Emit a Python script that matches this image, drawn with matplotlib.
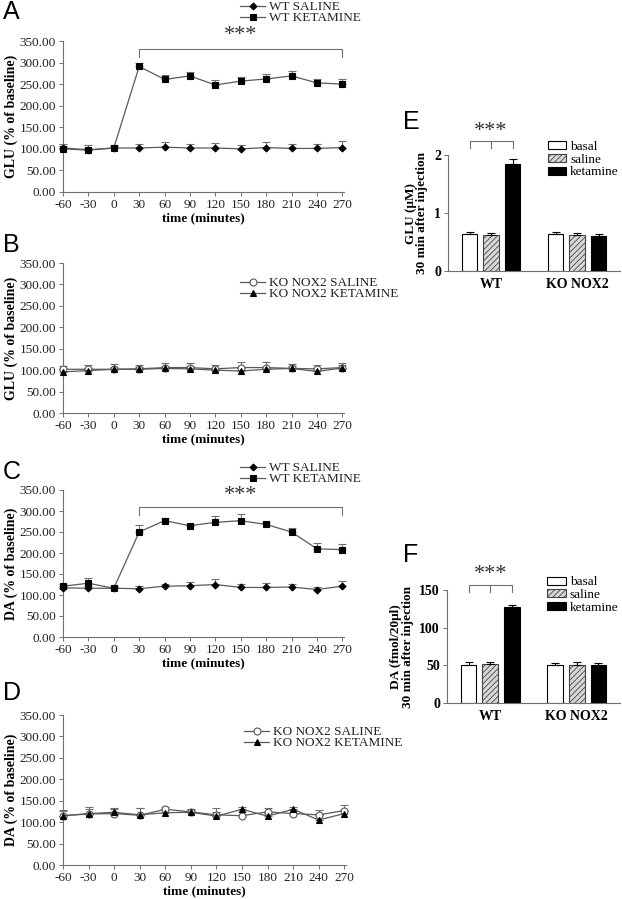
import numpy as np
import matplotlib
matplotlib.use("Agg")
import matplotlib.pyplot as plt
from matplotlib.patches import Patch
from matplotlib.lines import Line2D

plt.rcParams["font.family"] = ["Liberation Serif", "DejaVu Serif"]
plt.rcParams["hatch.linewidth"] = 0.6
plt.rcParams["axes.unicode_minus"] = False

# time course data (% of baseline)
time = [-60, -30, 0, 30, 60, 90, 120, 150, 180, 210, 240, 270]

glu_wt_sal = [102, 98, 102, 102, 104, 102, 102, 100, 103, 101, 101, 103]
glu_wt_sal_err = [10, 12, 8, 10, 12, 10, 12, 10, 12, 11, 10, 15]
glu_wt_ket = [100, 97, 102, 291, 261, 269, 248, 257, 262, 269, 253, 250]
glu_wt_ket_err = [6, 5, 5, 7, 10, 8, 12, 9, 11, 11, 9, 13]

glu_ko_sal = [102, 102, 102, 103, 106, 106, 103, 106, 106, 104, 103, 106]
glu_ko_sal_err = [8, 10, 12, 10, 10, 10, 8, 12, 12, 10, 10, 10]
glu_ko_ket = [96, 99, 102, 102, 104, 103, 100, 98, 102, 104, 97, 105]
glu_ko_ket_err = [6, 6, 6, 6, 6, 6, 6, 6, 6, 6, 6, 6]

da_wt_sal = [117, 116, 116, 115, 121, 122, 125, 118, 118, 119, 113, 121]
da_wt_sal_err = [5, 5, 5, 6, 5, 8, 12, 8, 10, 8, 7, 12]
da_wt_ket = [121, 128, 116, 250, 277, 265, 273, 277, 268, 250, 210, 208]
da_wt_ket_err = [5, 13, 4, 16, 7, 5, 14, 15, 7, 9, 13, 13]

da_ko_sal = [115, 119, 120, 116, 130, 124, 117, 115, 124, 120, 117, 127]
da_ko_sal_err = [13, 12, 11, 18, 6, 6, 16, 8, 10, 8, 12, 12]
da_ko_ket = [115, 120, 123, 117, 122, 123, 114, 130, 114, 130, 105, 120]
da_ko_ket_err = [10, 15, 11, 15, 8, 6, 10, 6, 8, 6, 13, 8]

# bar data, 30 min after injection
groups = ["WT", "KO NOX2"]
conditions = ["basal", "saline", "ketamine"]
glu_bars = [[0.63, 0.62, 1.84], [0.63, 0.62, 0.61]]
glu_bars_err = [[0.04, 0.04, 0.09], [0.05, 0.03, 0.03]]
da_bars = [[50, 52, 127], [50, 51, 50]]
da_bars_err = [[4, 3, 3], [3, 3, 3]]

W, H = 622, 899
fig = plt.figure(figsize=(W / 100, H / 100), dpi=100)

GRAY = "#707070"
LINE = "#5a5a5a"


def px_axes(left, top, right, bottom):
    return fig.add_axes([left / W, 1 - bottom / H, (right - left) / W, (bottom - top) / H])


def style_time_axes(ax, ylabel):
    ax.set_xlim(-60, 272)
    ax.set_ylim(0, 350)
    ax.set_xticks(time)
    ax.set_yticks(np.arange(0, 351, 50))
    ax.set_yticklabels(["%.2f" % v for v in np.arange(0, 351, 50)])
    for s in ["top", "right"]:
        ax.spines[s].set_visible(False)
    for s in ["left", "bottom"]:
        ax.spines[s].set_color(GRAY)
        ax.spines[s].set_linewidth(0.8)
    ax.tick_params(colors=GRAY, labelcolor="#222222", labelsize=9.5, length=3, width=0.7, pad=2)
    ax.set_xlabel("time (minutes)", fontweight="bold", fontsize=9.5, labelpad=1)
    ax.set_ylabel(ylabel, fontweight="bold", fontsize=10, labelpad=1)


def series(ax, y, err, marker, mfc="black", ms=5):
    ax.errorbar(time, y, yerr=[np.zeros(len(err)), err], color=LINE, ecolor=GRAY,
                elinewidth=0.8, capsize=3, capthick=0.8, lw=0.9, marker=marker,
                ms=ms, mfc=mfc, mec="black" if mfc == "black" else "#555555",
                mew=0.8, clip_on=False, zorder=3)
    return Line2D([], [], color=LINE, lw=0.9, marker=marker, ms=ms, mfc=mfc,
                  mec="black" if mfc == "black" else "#555555", mew=0.8)


def legend(ax, handles, labels, x, y):
    leg = ax.legend(handles, labels, loc="upper left", bbox_to_anchor=(x, y), frameon=False,
                    fontsize=9.5, handlelength=1.9, handletextpad=0.3, labelspacing=-0.1,
                    borderpad=0, borderaxespad=0)
    for t in leg.get_texts():
        t.set_color("#222222")


def stars(ax, x, y):
    ax.text(x, y, "***", ha="center", va="center", fontsize=16,
            color="#333333", clip_on=False)


def bracket(ax, x0, x1, ytop, ybot, ytext):
    ax.plot([x0, x0, x1, x1], [ybot, ytop, ytop, ybot], color=GRAY, lw=0.8, clip_on=False)
    stars(ax, (x0 + x1) / 2, ytext)


def letter(x, y, s):
    fig.text(x / W, 1 - y / H, s, fontsize=18, family="Liberation Sans", ha="left", va="center")


# A
axA = px_axes(63, 41, 344, 192)
style_time_axes(axA, "GLU (% of baseline)")
h1 = series(axA, glu_wt_sal, glu_wt_sal_err, "D", ms=3.5)
h2 = series(axA, glu_wt_ket, glu_wt_ket_err, "s", ms=5)
legend(axA, [h1, h2], ["WT SALINE", "WT KETAMINE"], 0.63, 1.265)
bracket(axA, 30, 270, 331, 313, 362)
letter(3, 12, "A")

# B
axB = px_axes(63, 263, 344, 413)
style_time_axes(axB, "GLU (% of baseline)")
h1 = series(axB, glu_ko_sal, glu_ko_sal_err, "o", mfc="white", ms=5)
h2 = series(axB, glu_ko_ket, glu_ko_ket_err, "^", ms=5)
legend(axB, [h1, h2], ["KO NOX2 SALINE", "KO NOX2 KETAMINE"], 0.63, 0.905)
letter(3, 245, "B")

# C
axC = px_axes(63, 490, 344, 637)
style_time_axes(axC, "DA (% of baseline)")
h1 = series(axC, da_wt_sal, da_wt_sal_err, "D", ms=3.5)
h2 = series(axC, da_wt_ket, da_wt_ket_err, "s", ms=5)
legend(axC, [h1, h2], ["WT SALINE", "WT KETAMINE"], 0.63, 1.19)
bracket(axC, 30, 270, 310, 290, 338)
letter(3, 472, "C")

# D
axD = px_axes(63, 715, 346, 865)
style_time_axes(axD, "DA (% of baseline)")
h1 = series(axD, da_ko_sal, da_ko_sal_err, "o", mfc="white", ms=5)
h2 = series(axD, da_ko_ket, da_ko_ket_err, "^", ms=5)
legend(axD, [h1, h2], ["KO NOX2 SALINE", "KO NOX2 KETAMINE"], 0.64, 0.925)
letter(3, 693, "D")

# bar panels
pos = [[0, 1, 2], [4, 5, 6]]
bar_style = [dict(facecolor="white", edgecolor="black", hatch=None),
             dict(facecolor="#d8d8d8", edgecolor="#444444", hatch="//////"),
             dict(facecolor="black", edgecolor="black", hatch=None)]


def bar_panel(ax, vals, errs, ylim, yticks, ylabel):
    for g in range(2):
        for c in range(3):
            ax.bar(pos[g][c], vals[g][c], width=0.72, linewidth=0.8, **bar_style[c], zorder=2)
            ax.errorbar(pos[g][c], vals[g][c], yerr=[[0], [errs[g][c]]], color="black",
                        elinewidth=0.8, capsize=3, capthick=0.8, zorder=3)
    ax.set_xlim(-1, 7)
    ax.set_ylim(*ylim)
    ax.set_yticks(yticks)
    ax.set_xticks([1, 5])
    ax.set_xticklabels(groups, fontweight="bold", fontsize=10)
    for s in ["top", "right"]:
        ax.spines[s].set_visible(False)
    for s in ["left", "bottom"]:
        ax.spines[s].set_color(GRAY)
        ax.spines[s].set_linewidth(0.8)
    ax.tick_params(axis="x", length=0, pad=5)
    ax.tick_params(axis="y", colors=GRAY, labelcolor="black", length=3, width=0.7, pad=2)
    for t in ax.get_yticklabels():
        t.set_fontweight("bold")
        t.set_fontsize(10)
    ax.set_ylabel(ylabel, fontweight="bold", fontsize=9.5, labelpad=4, linespacing=0.95)
    handles = [Patch(**bar_style[c], linewidth=0.8, label=conditions[c]) for c in range(3)]
    ax.legend(handles=handles, loc="upper left", bbox_to_anchor=(0.58, 1.12), frameon=False,
              fontsize=9.5, handlelength=1.4, handleheight=0.55, handletextpad=0.3,
              labelspacing=0.05, borderpad=0, borderaxespad=0)


axE = px_axes(448, 155, 620, 271)
bar_panel(axE, glu_bars, glu_bars_err, (0, 2), [0, 1, 2], "GLU (\u03bcM)\n30 min after injection")
axE.plot([0, 0, 2, 2], [2.12, 2.24, 2.24, 2.12], color=GRAY, lw=0.8, clip_on=False)
axE.plot([1, 1], [2.12, 2.24], color=GRAY, lw=0.8, clip_on=False)
stars(axE, 1, 2.40)
letter(403, 122, "E")

axF = px_axes(447, 590, 620, 703)
bar_panel(axF, da_bars, da_bars_err, (0, 150), [0, 50, 100, 150], "DA (fmol/20\u03bcl)\n30 min after injection")
axF.plot([0, 0, 2, 2], [147, 156.5, 156.5, 147], color=GRAY, lw=0.8, clip_on=False)
axF.plot([1, 1], [147, 156.5], color=GRAY, lw=0.8, clip_on=False)
stars(axF, 1, 171)
letter(403, 555, "F")

fig.savefig("out.png", dpi=100)
